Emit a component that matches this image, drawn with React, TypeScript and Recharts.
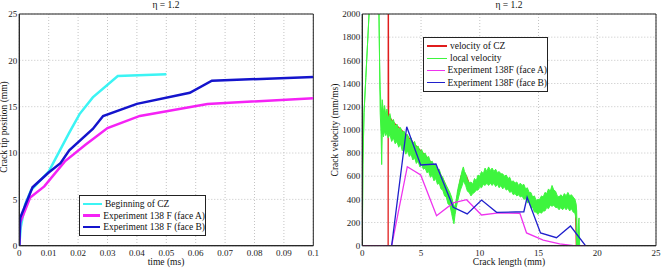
import {
  ComposedChart,
  LineChart,
  Line,
  Area,
  XAxis,
  YAxis,
  CartesianGrid,
  ReferenceArea,
} from "recharts"

// left panel: crack tip position vs time
const timeTicks = [0, 0.01, 0.02, 0.03, 0.04, 0.05, 0.06, 0.07, 0.08, 0.09, 0.1]
const posTicks = [0, 5, 10, 15, 20, 25]

const czTime = [0, 0.0005, 0.002, 0.004, 0.01, 0.013, 0.017, 0.0205, 0.025, 0.0335, 0.05]
const czPos = [0, 2, 4.5, 6, 8, 9.8, 12.2, 14.2, 16, 18.3, 18.5]

const faceATime = [0, 0.0003, 0.0037, 0.0085, 0.0155, 0.0225, 0.03, 0.041, 0.064, 0.1]
const faceAPos = [0, 2.5, 5.2, 6.4, 9.1, 10.9, 12.7, 14.0, 15.3, 15.9]

const faceBTime = [0, 0.0003, 0.0045, 0.01, 0.014, 0.017, 0.025, 0.0285, 0.04, 0.058, 0.0655, 0.1]
const faceBPos = [0, 3, 6.3, 7.9, 8.9, 10.3, 12.6, 14.0, 15.3, 16.5, 17.8, 18.2]

// right panel: crack velocity vs crack length
const lenTicks = [0, 5, 10, 15, 20, 25]
const velTicks = [0, 200, 400, 600, 800, 1000, 1200, 1400, 1600, 1800, 2000]

const czLen = [0, 2.2, 2.21, 2.24, 2.6, 3, 3.4, 3.8, 4.2, 4.6, 5, 5.4, 5.8, 6.2, 6.6, 7, 7.3, 7.6, 7.85, 8.1, 8.4, 8.7, 8.9, 9.2, 9.6, 10, 10.5, 11, 11.5, 12, 12.5, 13, 13.5, 14, 14.5, 15, 15.5, 16, 16.5, 17, 17.5, 18, 18.15, 18.22]
const czVel = [0, 0, 2600, 1120, 1070, 1030, 990, 950, 905, 860, 815, 775, 725, 685, 625, 545, 470, 395, 300, 430, 600, 630, 590, 510, 520, 560, 600, 600, 580, 560, 530, 500, 490, 440, 380, 330, 380, 420, 400, 380, 400, 390, 350, 0]

// local velocity is noisy: kept as a lower / upper envelope
const localLen = [
  0, 0.05, 0.15, 0.3, 0.45, 0.6, 0.7, 1.3, 1.42, 1.47, 1.52, 1.6, 1.65, 1.7, 1.8, 1.9, 2.0, 2.1, 2.2, 2.35, 2.5,
  2.65, 2.8, 2.95, 3.1, 3.25, 3.4, 3.55, 3.7, 3.85, 4.0, 4.15, 4.3, 4.45, 4.6, 4.75, 4.9, 5.05, 5.2, 5.35, 5.5,
  5.65, 5.8, 5.95, 6.1, 6.25, 6.4, 6.55, 6.7, 6.85, 7.0, 7.15, 7.3, 7.45, 7.6, 7.7, 7.8, 7.9, 8.0, 8.1, 8.2,
  8.35, 8.5, 8.6, 8.7, 8.8, 8.95, 9.1, 9.25, 9.4, 9.55, 9.7, 9.85, 10.0, 10.15, 10.3, 10.45, 10.6, 10.75, 10.9,
  11.05, 11.2, 11.35, 11.5, 11.65, 11.8, 11.95, 12.1, 12.25, 12.4, 12.55, 12.7, 12.85, 13.0, 13.15, 13.3, 13.45,
  13.6, 13.75, 13.9, 14.05, 14.2, 14.35, 14.5, 14.65, 14.8, 14.95, 15.1, 15.25, 15.4, 15.55, 15.7, 15.85, 16.0,
  16.15, 16.3, 16.45, 16.6, 16.75, 16.9, 17.05, 17.2, 17.35, 17.5, 17.65, 17.8, 17.95, 18.1, 18.2, 18.25, 18.3,
  18.4, 18.45, 18.5,
]
const localLow = [
  0, 700, 1150, 1450, 1750, 2050, 2600, 2600, 2000, 1580, 1150, 960, 700, 980, 940, 990, 950, 980, 930, 960, 900,
  930, 880, 900, 850, 880, 820, 850, 790, 820, 770, 790, 740, 760, 710, 730, 680, 700, 660, 670, 630,
  640, 590, 610, 560, 580, 530, 540, 490, 480, 430, 420, 360, 350, 280, 230, 190, 270, 330, 380, 420,
  480, 520, 560, 540, 520, 470, 460, 430, 450, 460, 480, 480, 510, 500, 530, 520, 540, 520, 540,
  520, 540, 510, 530, 500, 520, 490, 510, 480, 490, 460, 470, 440, 450, 430, 440, 420,
  430, 400, 410, 370, 380, 330, 330, 290, 290, 270, 290, 280, 300, 300, 330, 320, 350,
  340, 350, 330, 330, 310, 330, 310, 330, 310, 330, 300, 320, 290, 280, 230, 0, 0,
  0, 0, 0,
]
const localHigh = [
  0, 700, 1150, 1450, 1750, 2050, 2600, 2600, 2000, 1600, 1350, 1200, 1150, 1260, 1150, 1210, 1120, 1180, 1100, 1140, 1060,
  1090, 1030, 1050, 1000, 1020, 980, 990, 940, 960, 910, 930, 880, 900, 850, 860, 810, 830, 790, 800, 760,
  770, 720, 730, 690, 700, 650, 660, 610, 590, 550, 520, 490, 460, 420, 380, 350, 330, 400, 470, 520,
  580, 650, 680, 640, 620, 570, 540, 550, 530, 580, 560, 610, 600, 640, 620, 670, 640, 680, 650,
  670, 640, 660, 630, 640, 620, 620, 600, 610, 580, 590, 550, 560, 540, 550, 520, 540,
  520, 530, 490, 500, 460, 460, 420, 430, 390, 400, 400, 430, 420, 460, 450, 490, 470,
  520, 480, 470, 430, 420, 440, 420, 450, 430, 460, 430, 440, 420, 400, 360, 300, 0,
  200, 240, 0,
]

const expALen = [0, 2.5, 3.83, 4.97, 6.32, 7.74, 8.88, 10.15, 11.43, 13.41, 13.98, 15.4, 16.8, 18, 19]
const expAVel = [0, 0, 682, 610, 259, 369, 397, 265, 282, 280, 110, 49, 15, 0, 0]

const expBLen = [2.5, 3.78, 4.97, 6.27, 7.74, 8.93, 10.15, 11.43, 13.75, 14.03, 15.17, 16.53, 17.72, 19]
const expBVel = [0, 1027, 697, 705, 331, 274, 394, 288, 293, 418, 110, 69, 170, 0]

const leftLegend = [
  { label: "Beginning of CZ", color: "#3cf4f4" },
  { label: "Experiment 138 F (face A)", color: "#f522f5" },
  { label: "Experiment 138 F (face B)", color: "#1414cc" },
]
const rightLegend = [
  { label: "velocity of CZ", color: "#e01c1c" },
  { label: "local velocity", color: "#3ef53e" },
  { label: "Experiment 138F (face A)", color: "#ee33ee" },
  { label: "Experiment 138F (face B)", color: "#2020cc" },
]

const font = "Liberation Serif"
const tickStyle = { fill: "#222", fontSize: 9, fontFamily: font }
const frame = "#222"

const zip = (xs: number[], ys: number[], xKey: string, yKey: string) =>
  xs.map((x, i) => ({ [xKey]: x, [yKey]: ys[i] }))

const czData = zip(czTime, czPos, "t", "pos")
const faceAData = zip(faceATime, faceAPos, "t", "pos")
const faceBData = zip(faceBTime, faceBPos, "t", "pos")

const czVelData = zip(czLen, czVel, "len", "vel")
const localData = localLen.map((len, i) => ({ len, band: [localLow[i], localHigh[i]] }))
const expAData = zip(expALen, expAVel, "len", "vel")
const expBData = zip(expBLen, expBVel, "len", "vel")

type Entry = { label: string; color: string }

function LegendBox({ items, left, top, width, rowH, lineW, sampleW }: {
  items: Entry[]; left: number; top: number; width: number; rowH: number; lineW: number; sampleW: number
}) {
  return (
    <div
      style={{
        position: "absolute", left, top, width, boxSizing: "border-box",
        border: `1px solid ${frame}`, background: "#fff", padding: "2px 0 2px 3px",
        fontFamily: font, fontSize: 9.5, color: "#111",
      }}
    >
      {items.map((it) => (
        <div key={it.label} style={{ display: "flex", alignItems: "center", height: rowH, whiteSpace: "nowrap" }}>
          <span style={{ display: "inline-block", width: sampleW, height: lineW, background: it.color, marginRight: 3 }} />
          {it.label}
        </div>
      ))}
    </div>
  )
}

export default function App() {
  return (
    <div style={{ position: "absolute", left: 0, top: 0, width: 661, height: 268, background: "#fff" }}>
      <div style={{ position: "absolute", left: 0, top: 0 }}>
        <LineChart width={330} height={268} margin={{ top: 14, right: 16.7, bottom: 0.3, left: 0.3 }}>
          <CartesianGrid stroke="#c4c4c4" strokeDasharray="1 2" />
          <XAxis
            dataKey="t" type="number" domain={[0, 0.1]} ticks={timeTicks} interval={0}
            allowDataOverflow height={22} tickLine={false} tickSize={2} tickMargin={2}
            axisLine={{ stroke: frame }} tick={tickStyle}
          />
          <YAxis
            type="number" domain={[0, 25]} ticks={posTicks} interval={0}
            allowDataOverflow width={19} tickLine={false} tickSize={2} tickMargin={0}
            axisLine={{ stroke: frame }} tick={tickStyle}
          />
          <Line data={czData} dataKey="pos" type="linear" stroke={leftLegend[0].color} strokeWidth={2.5} dot={false} isAnimationActive={false} />
          <Line data={faceAData} dataKey="pos" type="linear" stroke={leftLegend[1].color} strokeWidth={2.5} dot={false} isAnimationActive={false} />
          <Line data={faceBData} dataKey="pos" type="linear" stroke={leftLegend[2].color} strokeWidth={2.5} dot={false} isAnimationActive={false} />
          <ReferenceArea x1={0} x2={0.1} y1={0} y2={25} fill="none" stroke={frame} strokeWidth={1} ifOverflow="visible" />
        </LineChart>
      </div>

      <div style={{ position: "absolute", left: 330, top: 0 }}>
        <ComposedChart width={331} height={268} margin={{ top: 14, right: 5, bottom: 0.3, left: 0.3 }}>
          <CartesianGrid stroke="#c4c4c4" strokeDasharray="1 2" />
          <XAxis
            dataKey="len" type="number" domain={[0, 25]} ticks={lenTicks} interval={0}
            allowDataOverflow height={22} tickLine={false} tickSize={2} tickMargin={2}
            axisLine={{ stroke: frame }} tick={tickStyle}
          />
          <YAxis
            type="number" domain={[0, 2000]} ticks={velTicks} interval={0}
            allowDataOverflow width={32} tickLine={false} tickSize={2} tickMargin={0}
            axisLine={{ stroke: frame }} tick={tickStyle}
          />
          {/* CZ velocity as an unfilled area so the noisy band stacks above it */}
          <Area data={czVelData} dataKey="vel" type="linear" stroke={rightLegend[0].color} fill="none" strokeWidth={1.3} dot={false} activeDot={false} isAnimationActive={false} />
          <Area data={localData} dataKey="band" type="linear" stroke={rightLegend[1].color} fill={rightLegend[1].color} fillOpacity={1} strokeWidth={1} dot={false} activeDot={false} isAnimationActive={false} />
          <Line data={expAData} dataKey="vel" type="linear" stroke={rightLegend[2].color} strokeWidth={1.3} dot={false} isAnimationActive={false} />
          <Line data={expBData} dataKey="vel" type="linear" stroke={rightLegend[3].color} strokeWidth={1.3} dot={false} isAnimationActive={false} />
          <ReferenceArea x1={0} x2={25} y1={0} y2={2000} fill="none" stroke={frame} strokeWidth={1} ifOverflow="visible" />
        </ComposedChart>
      </div>

      <svg width={661} height={268} style={{ position: "absolute", left: 0, top: 0, pointerEvents: "none" }}>
        <g fontFamily={font} fontSize={9.5} fill="#111" textAnchor="middle">
          <text x={166} y={5} dominantBaseline="central">η = 1.2</text>
          <text x={509} y={5} dominantBaseline="central">η = 1.2</text>
          <text x={166} y={262} dominantBaseline="central">time (ms)</text>
          <text x={509} y={262} dominantBaseline="central">Crack length (mm)</text>
          <text x={4} y={127} dominantBaseline="central" transform="rotate(-90 4 127)">Crack tip position (mm)</text>
          <text x={335} y={130} dominantBaseline="central" transform="rotate(-90 335 130)">Crack velocity (mm/ms)</text>
        </g>
      </svg>

      <LegendBox items={leftLegend} left={79} top={195} width={127} rowH={11.7} lineW={2.5} sampleW={19} />
      <LegendBox items={rightLegend} left={423} top={37} width={125} rowH={12.2} lineW={1.3} sampleW={20} />
    </div>
  )
}
